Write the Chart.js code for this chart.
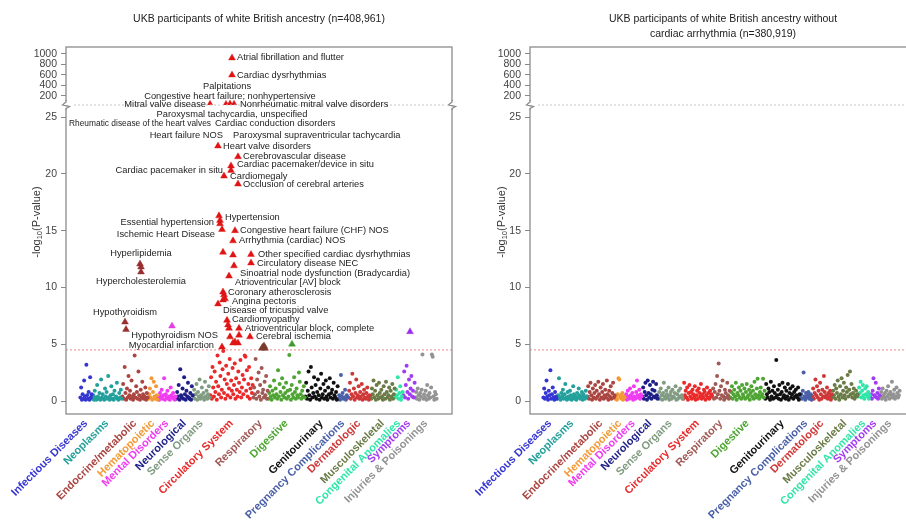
<!DOCTYPE html>
<html>
<head>
<meta charset="utf-8">
<script src="https://cdn.jsdelivr.net/npm/chart.js@4.4.1/dist/chart.umd.min.js"></script>
<style>
  html, body { margin: 0; padding: 0; background: #fff; width: 906px; height: 522px; overflow: hidden; }
  canvas { position: absolute; top: 0; }
  #left { left: 0; }
  #right { left: 460px; }
</style>
</head>
<body>
<canvas id="left" width="460" height="522"></canvas>
<canvas id="right" width="470" height="522"></canvas>
<script>
const FONT = '"Liberation Sans", Arial, Helvetica, sans-serif';

const catNames = ['Infectious Diseases', 'Neoplasms', 'Endocrine/metabolic', 'Hematopoietic', 'Mental Disorders',
  'Neurological', 'Sense Organs', 'Circulatory System', 'Respiratory', 'Digestive', 'Genitourinary',
  'Pregnancy Complications', 'Dermatologic', 'Musculoskeletal', 'Congenital Anomalies', 'Symptoms',
  'Injuries & Poisonings'];
const catColors = ['#3535d2', '#23a09b', '#ab4542', '#f39a36', '#f03cf0', '#1e1e88', '#819c82', '#ea2a2a',
  '#a05a56', '#4ea533', '#111111', '#4a60a8', '#cf3838', '#6b7b47', '#2fe6a8', '#a23cf2', '#939393'];

// phenotype slots per category (x axis order)
const slotsLeft = [12, 30, 26, 10, 18, 17, 17, 43, 15, 37, 33, 10, 22, 25, 8, 12, 22];
const slotsRight = [14, 30, 28, 10, 17, 16, 25, 29, 18, 35, 35, 12, 20, 26, 12, 10, 20];

// -log10(P) per phenotype, all participants
const leftPvals = [
  [0.3, 1.2, 0.1, 0.6, 0.2, 1.8, 0.4, 0.1, 3.2, 0.5, 0.2, 0.8, 0.1, 2.1, 0.3, 0.6],
  [0.2, 0.5, 0.1, 0.9, 0.3, 0.1, 1.4, 0.4, 0.2, 0.7, 0.1, 1.9, 0.3, 0.6, 0.2, 0.1, 1.1, 0.4, 0.8, 0.2, 2.2, 0.3, 0.1, 0.5, 1.3, 0.2, 0.6, 0.1, 0.9, 0.3, 0.4, 1.6, 0.2, 0.1, 0.7, 0.3, 1.0, 0.2],
  [0.4, 1.5, 0.2, 3.0, 0.7, 0.1, 1.1, 0.3, 2.2, 0.5, 0.9, 0.2, 1.8, 0.4, 0.1, 0.6, 4.0, 0.3, 1.3, 0.8, 0.2, 2.6, 0.5, 0.1, 1.0, 0.3, 1.7, 0.6, 0.2, 0.4, 1.2, 0.1, 0.7, 0.3],
  [0.2, 0.6, 1.1, 0.3, 2.0, 0.1, 0.8, 1.7, 0.4, 0.2, 1.3, 0.5, 0.1],
  [0.3, 0.1, 0.7, 0.4, 1.0, 0.2, 0.5, 2.0, 0.1, 0.6, 0.3, 0.9, 0.2, 0.4, 0.1, 1.2, 0.5, 0.3, 0.7, 0.2, 0.1, 0.4],
  [0.2, 0.8, 0.4, 1.4, 0.1, 2.8, 0.5, 0.3, 1.1, 0.2, 2.1, 0.6, 0.1, 0.9, 0.4, 1.6, 0.3, 0.2, 0.7, 0.1, 1.3, 0.5],
  [0.3, 1.0, 0.2, 0.6, 1.5, 0.1, 0.8, 0.4, 1.9, 0.2, 0.5, 1.2, 0.3, 0.7, 0.1, 1.7, 0.4, 0.9, 0.2, 0.6, 1.3, 0.3],
  [0.5, 2.1, 0.2, 3.0, 1.2, 0.4, 2.6, 0.8, 1.7, 0.1, 4.0, 1.3, 0.6, 3.4, 2.2, 0.3, 1.0, 2.8, 4.4, 0.7, 1.9, 0.2, 3.1, 1.5, 0.5, 2.4, 1.1, 3.7, 0.3, 1.8, 0.9, 2.9, 0.6, 1.4, 3.3, 0.2, 2.0, 1.0, 0.4, 2.6, 1.6, 0.8, 3.6, 0.3, 1.2, 2.3, 0.6, 1.9, 4.0, 3.9, 0.9, 2.7, 0.4, 1.5, 3.0, 0.2, 1.1, 2.0, 0.7, 1.4],
  [0.3, 1.2, 0.6, 3.7, 0.2, 1.9, 0.8, 2.5, 0.4, 1.4, 0.1, 2.9, 0.7, 1.0, 0.3, 1.7, 0.5, 2.2, 0.2, 0.9],
  [0.2, 0.7, 1.3, 0.4, 0.1, 0.9, 0.5, 1.8, 0.3, 1.1, 0.6, 0.2, 2.7, 0.4, 1.5, 0.8, 0.1, 2.0, 0.5, 1.2, 0.3, 0.7, 1.6, 0.2, 0.9, 0.4, 4.05, 1.0, 0.1, 1.4, 0.6, 0.3, 2.1, 0.8, 0.2, 1.1, 0.5, 0.3, 2.5, 1.7, 0.6, 0.2, 0.9, 0.4, 1.3, 0.3],
  [0.4, 1.6, 0.2, 0.9, 2.6, 0.5, 0.1, 3.0, 1.2, 0.3, 0.7, 2.1, 0.4, 1.4, 0.2, 0.8, 1.9, 0.5, 0.1, 1.1, 2.4, 0.3, 0.6, 1.5, 0.2, 0.9, 1.8, 0.4, 0.1, 1.2, 0.6, 2.0, 0.3, 0.7, 1.0, 0.2, 1.6, 0.5, 0.3, 0.8, 0.1, 1.3],
  [0.2, 0.5, 0.1, 2.3, 0.4, 0.7, 0.2, 0.3, 1.0, 0.1, 0.5, 0.3],
  [0.3, 0.9, 1.6, 0.2, 0.6, 2.4, 0.4, 1.1, 0.1, 0.7, 1.9, 0.3, 0.5, 1.3, 0.2, 0.8, 0.4, 1.5, 0.1, 0.6, 1.0, 0.3, 0.2, 0.7, 1.2, 0.4, 0.1, 0.5],
  [0.4, 0.2, 1.1, 0.6, 1.8, 0.3, 0.9, 0.1, 1.4, 0.5, 0.2, 1.6, 0.7, 0.3, 1.0, 0.4, 0.1, 1.3, 0.6, 0.2, 1.7, 0.8, 0.3, 0.5, 1.2, 0.1, 0.9, 0.4, 1.5, 0.2, 0.6, 1.1],
  [0.3, 1.0, 0.5, 2.1, 0.2, 0.7, 1.3, 0.1, 0.4, 0.8],
  [0.5, 2.6, 0.3, 1.4, 3.1, 0.8, 0.2, 1.9, 0.6, 1.1, 2.2, 0.4, 0.9, 0.3, 1.6],
  [0.3, 0.8, 0.2, 1.1, 0.5, 0.1, 0.7, 0.4, 1.0, 4.1, 0.2, 0.6, 0.3, 0.9, 0.1, 1.4, 0.5, 0.2, 0.7, 0.3, 1.2, 4.1, 3.9, 0.4, 0.1, 0.8, 0.6, 0.2]
];

// -log10(P) per phenotype, participants without cardiac arrhythmia
const rightPvals = [
  [0.3, 1.1, 0.2, 0.7, 1.8, 0.4, 0.1, 0.9, 0.5, 2.7, 0.2, 0.6, 1.2, 0.3, 0.1, 0.8, 0.4, 0.2],
  [0.2, 0.5, 2.0, 0.3, 0.1, 0.7, 0.4, 1.0, 0.2, 0.6, 1.5, 0.3, 0.1, 0.8, 0.4, 0.2, 0.9, 0.5, 0.1, 0.3, 1.3, 0.6, 0.2, 0.4, 0.1, 0.7, 0.3, 1.1, 0.5, 0.2, 0.4, 0.8, 0.1, 0.6, 0.3, 0.2, 0.9, 0.4],
  [0.4, 1.3, 0.2, 0.8, 1.6, 0.5, 0.1, 1.1, 0.3, 0.7, 1.4, 0.2, 0.9, 0.4, 1.7, 0.6, 0.1, 1.2, 0.3, 0.8, 1.5, 0.2, 0.5, 1.0, 0.3, 1.8, 0.6, 0.1, 0.9, 0.4, 1.3, 0.2, 0.7, 1.6, 0.3, 0.5],
  [0.2, 0.4, 0.1, 0.6, 2.0, 1.9, 0.3, 0.5, 0.2, 0.7, 0.1, 0.4, 0.3],
  [0.3, 0.6, 0.1, 0.9, 0.4, 0.2, 1.1, 0.5, 0.3, 0.7, 0.1, 1.3, 0.4, 0.2, 0.8, 1.8, 0.5, 0.3, 1.0, 0.2, 0.6, 0.4],
  [0.4, 1.2, 0.2, 0.8, 1.6, 0.5, 0.1, 1.8, 0.7, 0.3, 1.4, 0.6, 0.2, 1.0, 1.7, 0.4, 0.9, 0.3, 1.5, 0.5, 0.2],
  [0.3, 0.8, 0.2, 1.1, 0.5, 0.1, 0.7, 1.6, 0.4, 0.2, 0.9, 0.6, 0.3, 1.2, 0.1, 0.5, 0.8, 0.2, 1.0, 0.4, 0.3, 0.7, 1.3, 0.1, 0.6, 0.2, 0.9, 0.4, 1.1, 0.3, 0.5, 0.2],
  [0.2, 1.6, 0.5, 0.9, 0.3, 1.2, 0.1, 0.7, 1.4, 0.4, 0.8, 0.2, 1.0, 0.6, 0.3, 1.3, 0.1, 0.5, 0.9, 0.2, 1.1, 0.7, 0.4, 1.5, 0.2, 0.6, 0.3, 1.0, 0.8, 0.1, 0.5, 1.2, 0.3, 0.7, 0.2, 0.9, 0.4, 0.6],
  [0.4, 1.1, 0.2, 0.8, 1.5, 0.3, 2.2, 0.6, 3.3, 0.9, 0.2, 1.3, 0.5, 1.8, 0.4, 0.1, 1.0, 0.7, 0.3, 1.6, 0.5, 0.2, 0.9],
  [0.3, 0.8, 1.3, 0.2, 0.6, 1.0, 0.4, 1.6, 0.1, 0.7, 0.5, 1.2, 0.3, 0.9, 0.2, 1.4, 0.6, 0.4, 1.1, 0.2, 0.8, 1.5, 0.3, 0.5, 1.0, 0.1, 0.7, 1.3, 0.4, 0.9, 0.2, 1.7, 0.6, 0.3, 1.1, 1.95, 0.5, 0.2, 0.8, 1.2, 0.4, 0.6, 1.95, 0.3, 0.9],
  [0.2, 1.5, 0.6, 0.3, 1.1, 0.8, 0.1, 1.7, 0.4, 0.9, 0.2, 1.3, 0.7, 0.3, 3.6, 0.5, 1.0, 0.2, 1.4, 0.6, 0.1, 0.8, 1.6, 0.3, 0.5, 1.2, 0.2, 0.9, 0.4, 1.5, 0.1, 0.7, 1.1, 0.3, 0.6, 1.3, 0.2, 0.8, 0.4, 1.0, 0.5, 0.3, 1.2, 0.1, 0.6],
  [0.3, 0.6, 0.2, 0.9, 2.5, 0.4, 0.1, 0.7, 0.3, 0.5, 0.8, 0.2, 0.4, 0.6, 0.1],
  [0.4, 1.1, 0.2, 0.7, 1.9, 0.5, 1.3, 0.3, 0.9, 0.1, 1.6, 0.6, 0.2, 1.0, 0.4, 2.2, 0.8, 0.3, 0.5, 1.2, 0.2, 0.7, 0.4, 0.9, 0.1, 0.6],
  [0.3, 0.9, 0.5, 1.4, 0.2, 1.1, 0.7, 1.8, 0.4, 0.1, 1.3, 0.6, 2.0, 0.3, 0.9, 1.6, 0.5, 0.2, 1.2, 0.8, 2.3, 0.4, 1.0, 2.6, 0.6, 1.5, 0.3, 0.7, 1.1, 0.2, 0.5, 0.9, 0.4, 0.6],
  [0.4, 1.2, 0.7, 1.7, 0.3, 0.9, 1.4, 0.5, 0.2, 1.1, 0.6, 1.3, 0.4, 0.8, 0.2, 0.5],
  [0.3, 0.6, 0.2, 0.9, 2.0, 0.5, 0.4, 1.6, 0.3, 0.7, 0.2, 1.1, 0.5],
  [0.4, 0.8, 0.2, 1.1, 0.5, 0.3, 0.7, 0.1, 0.9, 0.4, 1.3, 0.6, 0.2, 0.8, 0.5, 1.7, 0.3, 0.6, 1.0, 0.2, 0.4, 1.2, 0.7, 0.3, 0.5, 0.9]
];

// significant phenotypes (all participants): slot position, -log10(P), category
const hitX = [152, 152, 130, 146, 150, 154,
  138, 158, 151, 151, 144, 158, 139, 140, 140, 142, 155, 153, 143, 153, 171, 171, 154, 149,
  143, 144, 143, 145, 138, 147, 148, 149, 159, 150, 159, 155, 153, 158, 170, 142,
  60, 61, 61, 45, 46, 92, 183, 185, 182, 184, 212, 330];
const hitY = [925, 600, 42, 40, 46, 43,
  22.45, 21.5, 20.7, 20.3, 19.8, 19.1, 16.3, 15.9, 15.6, 15.1, 15.0, 14.1, 13.1, 12.85, 12.9, 12.15, 11.9, 11.0,
  9.6, 9.35, 8.9, 9.0, 8.55, 7.1, 6.7, 6.4, 6.4, 5.65, 5.8, 5.2, 5.1, 5.1, 5.65, 4.75,
  12.06, 11.8, 11.36, 6.95, 6.3, 6.6, 4.75, 4.65, 4.65, 4.85, 5.0, 6.1];
const hitCat = [7, 7, 7, 7, 7, 7,
  7, 7, 7, 7, 7, 7, 7, 7, 7, 7, 7, 7, 7, 7, 7, 7, 7, 7,
  7, 7, 7, 7, 7, 7, 7, 7, 7, 7, 7, 7, 7, 7, 7, 7,
  2, 2, 2, 2, 2, 4, 8, 8, 8, 8, 9, 15];
const hitColors = { 2: '#992e2e', 4: '#e23ee2', 7: '#e01414', 8: '#7c3a2c', 9: '#3d9a2a', 15: '#9a30ee' };

// phenotype names written next to the hits
const noteText = ['Atrial fibrillation and flutter', 'Cardiac dysrhythmias', 'Palpitations',
  'Congestive heart failure; nonhypertensive', 'Mitral valve disease', 'Nonrheumatic mitral valve disorders',
  'Paroxysmal tachycardia, unspecified', 'Rheumatic disease of the heart valves', 'Cardiac conduction disorders',
  'Heart failure NOS', 'Paroxysmal supraventricular tachycardia', 'Heart valve disorders', 'Cerebrovascular disease',
  'Cardiac pacemaker/device in situ', 'Cardiac pacemaker in situ', 'Cardiomegaly', 'Occlusion of cerebral arteries',
  'Hypertension', 'Essential hypertension', 'Ischemic Heart Disease', 'Congestive heart failure (CHF) NOS',
  'Arrhythmia (cardiac) NOS', 'Hyperlipidemia', 'Other specified cardiac dysrhythmias', 'Circulatory disease NEC',
  'Sinoatrial node dysfunction (Bradycardia)', 'Hypercholesterolemia', 'Atrioventricular [AV] block',
  'Coronary atherosclerosis', 'Angina pectoris', 'Disease of tricuspid valve', 'Hypothyroidism', 'Cardiomyopathy',
  'Atrioventricular block, complete', 'Hypothyroidism NOS', 'Cerebral ischemia', 'Myocardial infarction'];
const noteX = [157, 157, 147, 150, 126, 160, 152, 131, 135, 143, 153, 143, 163, 157, 143, 150, 163, 145, 134, 135,
  160, 159, 61, 178, 177, 160, 61, 155, 148, 152, 143, 45, 152, 165, 138, 176, 134];
const noteY = [925, 600, 390, 185, 42, 42, 25.2, 24.4, 24.4, 23.4, 23.4, 22.45, 21.5, 20.8, 20.3, 19.8, 19.1, 16.2,
  15.75, 14.7, 15.0, 14.1, 13.0, 12.9, 12.15, 11.25, 10.5, 10.4, 9.6, 8.8, 8.0, 7.8, 7.2, 6.35, 5.8, 5.65, 4.85];
const noteAlign = ['left', 'left', 'center', 'center', 'right', 'left', 'center', 'right', 'left', 'right', 'left',
  'left', 'left', 'left', 'right', 'left', 'left', 'left', 'right', 'right', 'left', 'left', 'center', 'left', 'left',
  'left', 'center', 'left', 'left', 'left', 'left', 'center', 'left', 'left', 'right', 'left', 'right'];

const lowTicks = [0, 5, 10, 15, 20, 25];
const highTicks = [200, 400, 600, 800, 1000];
const bonferroni = 4.5;
const BREAK = 26; // values above go on the compressed upper axis

function categoryCenters(slots) {
  let start = 0;
  return slots.map(n => { const c = start + n / 2; start += n; return c; });
}

function buildDatasets(slots, pvals, xmin, xmax) {
  const sets = [];
  let start = 0;
  pvals.forEach((vals, c) => {
    const step = slots[c] / vals.length;
    sets.push({
      data: vals.map((v, i) => ({ x: start + (i + 0.5) * step, y: v })),
      yAxisID: 'y', backgroundColor: catColors[c], borderWidth: 0, pointRadius: 2, order: 2
    });
    start += slots[c];
  });
  sets.push({
    type: 'line', data: [{ x: xmin, y: bonferroni }, { x: xmax, y: bonferroni }], yAxisID: 'y',
    borderColor: '#ee8a8a', borderWidth: 1, borderDash: [2, 2], pointRadius: 0, order: 3
  });
  return sets;
}

function hitDatasets() {
  const low = [], high = [], lowC = [], highC = [];
  hitX.forEach((x, i) => {
    const col = hitColors[hitCat[i]];
    if (hitY[i] > BREAK) { high.push({ x, y: hitY[i] }); highC.push(col); }
    else { low.push({ x, y: hitY[i] }); lowC.push(col); }
  });
  const base = { pointStyle: 'triangle', pointRadius: 4, borderWidth: 0.4, order: 1 };
  return [
    Object.assign({ data: low, yAxisID: 'y', backgroundColor: lowC, borderColor: lowC }, base),
    Object.assign({ data: high, yAxisID: 'yTop', backgroundColor: highC, borderColor: highC }, base)
  ];
}

function yAxis(extra, axisWidth, ticks) {
  return Object.assign({
    type: 'linear', position: 'left', stack: 'left',
    grid: { drawOnChartArea: false, drawTicks: true, tickLength: 5, color: '#888' },
    border: { display: false },
    ticks: { color: '#444', font: { family: FONT, size: 10.5 }, padding: 4, autoSkip: false, callback: v => String(v) },
    afterBuildTicks: s => { s.ticks = ticks.map(v => ({ value: v })); },
    afterFit: s => { s.width = axisWidth; }
  }, extra);
}

const decor = {
  id: 'decor',
  afterDatasetsDraw(chart, args, o) {
    const { ctx, chartArea: a, scales } = chart;
    const brk = scales.y.top;
    ctx.save();
    // dashed gap line at the axis break
    ctx.strokeStyle = '#c6c6c6';
    ctx.lineWidth = 1;
    ctx.setLineDash([2, 2]);
    ctx.beginPath(); ctx.moveTo(a.left + 8, brk); ctx.lineTo(a.right - 8, brk); ctx.stroke();
    ctx.setLineDash([]);

    // phenotype names, kept inside the frame
    if (o.notes) {
      ctx.fillStyle = '#1c1c1c';
      ctx.font = '9.3px ' + FONT;
      ctx.textBaseline = 'middle';
      noteText.forEach((t, i) => {
        const ys = noteY[i] > BREAK ? scales.yTop : scales.y;
        const x = scales.x.getPixelForValue(noteX[i]);
        const w = ctx.measureText(t).width;
        let room = w;
        if (noteAlign[i] === 'right') room = Math.min(w, x - a.left - 3);
        ctx.textAlign = noteAlign[i];
        ctx.fillText(t, x, ys.getPixelForValue(noteY[i]), room);
      });
    }

    // frame with break marks
    ctx.strokeStyle = '#8c8c8c';
    ctx.lineWidth = 1.3;
    ctx.strokeRect(a.left, a.top, a.right - a.left, a.bottom - a.top);
    [a.left, a.right].forEach(x => {
      ctx.fillStyle = '#fff';
      ctx.fillRect(x - 2, brk - 4, 4, 8);
      ctx.beginPath();
      ctx.moveTo(x, brk - 5); ctx.lineTo(x, brk - 3); ctx.lineTo(x - 3.5, brk);
      ctx.lineTo(x + 3.5, brk + 1.5); ctx.lineTo(x, brk + 3.5); ctx.lineTo(x, brk + 5);
      ctx.stroke();
    });

    // panel title
    ctx.fillStyle = '#222';
    ctx.font = '10.5px ' + FONT;
    ctx.textAlign = 'center';
    ctx.textBaseline = 'middle';
    const cx = (a.left + a.right) / 2;
    o.title.forEach((line, i) => ctx.fillText(line, cx, 19 + i * 15));

    // y axis title with subscript
    ctx.translate(a.left - o.yTitleGap, 222);
    ctx.rotate(-Math.PI / 2);
    ctx.fillStyle = '#333';
    const big = '11px ' + FONT, small = '7.5px ' + FONT;
    ctx.font = big; const w1 = ctx.measureText('-log').width, w3 = ctx.measureText('(P-value)').width;
    ctx.font = small; const w2 = ctx.measureText('10').width;
    let x0 = -(w1 + w2 + w3) / 2;
    ctx.textAlign = 'left';
    ctx.font = big; ctx.fillText('-log', x0, 0); x0 += w1;
    ctx.font = small; ctx.fillText('10', x0, 3); x0 += w2;
    ctx.font = big; ctx.fillText('(P-value)', x0, 0);
    ctx.restore();
  }
};

function makeChart(id, slots, pvals, withHits, xmin, xmax, axisWidth, padRight, title, yTitleGap) {
  const centers = categoryCenters(slots);
  const datasets = buildDatasets(slots, pvals, xmin, xmax);
  if (withHits) datasets.push(...hitDatasets());
  return new Chart(document.getElementById(id), {
    type: 'scatter',
    data: { datasets },
    plugins: [decor],
    options: {
      responsive: false,
      animation: false,
      layout: { padding: { top: 47, right: padRight, left: 0, bottom: 0 } },
      plugins: {
        legend: { display: false },
        tooltip: { enabled: false },
        decor: { notes: withHits, title, yTitleGap }
      },
      scales: {
        x: {
          type: 'linear', min: xmin, max: xmax,
          grid: { display: false, drawTicks: false },
          border: { display: false },
          afterBuildTicks: s => { s.ticks = centers.map(v => ({ value: v })); },
          afterFit: s => { s.height = 108; },
          ticks: {
            autoSkip: false, minRotation: 45, maxRotation: 45, padding: 3,
            font: { family: FONT, size: 11, weight: 'bold' },
            color: c => catColors[c.index],
            callback: (v, i) => catNames[i]
          }
        },
        y: yAxis({ min: -1.144, max: 26.06, stackWeight: 309 }, axisWidth, lowTicks),
        yTop: yAxis({ min: 28.6, max: 1133, stackWeight: 58 }, axisWidth, highTicks)
      }
    }
  });
}

makeChart('left', slotsLeft, leftPvals, true, -14, 372, 66, 8,
  ['UKB participants of white British ancestry (n=408,961)'], 29);
makeChart('right', slotsRight, rightPvals, false, -13, 373, 70, 14,
  ['UKB participants of white British ancestry without', 'cardiac arrhythmia (n=380,919)'], 28);
</script>
</body>
</html>
